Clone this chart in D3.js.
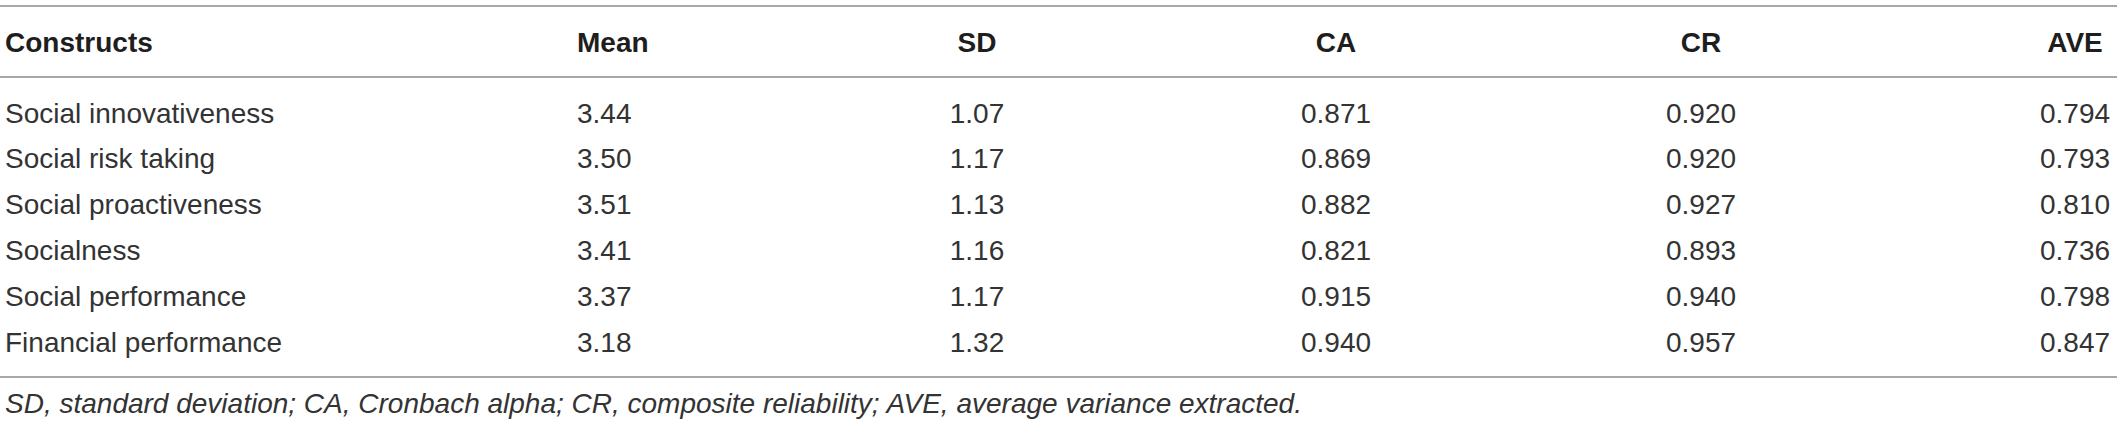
<!DOCTYPE html>
<html>
<head>
<meta charset="utf-8">
<script src="https://cdn.jsdelivr.net/npm/d3@7"></script>
<style>
  html, body { margin: 0; padding: 0; background: #fff; }
  svg { display: block; }
  text { font-family: "Liberation Sans", Arial, Helvetica, sans-serif; }
</style>
</head>
<body>
<div id="table"></div>
<script>
  var headers = ['Constructs', 'Mean', 'SD', 'CA', 'CR', 'AVE'];
  var constructs = ['Social innovativeness', 'Social risk taking', 'Social proactiveness',
                    'Socialness', 'Social performance', 'Financial performance'];
  var means = ['3.44', '3.50', '3.51', '3.41', '3.37', '3.18'];
  var sds   = ['1.07', '1.17', '1.13', '1.16', '1.17', '1.32'];
  var cas   = ['0.871', '0.869', '0.882', '0.821', '0.915', '0.940'];
  var crs   = ['0.920', '0.920', '0.927', '0.893', '0.940', '0.957'];
  var aves  = ['0.794', '0.793', '0.810', '0.736', '0.798', '0.847'];
  var footnote = 'SD, standard deviation; CA, Cronbach alpha; CR, composite reliability; AVE, average variance extracted.';

  var width = 2117, height = 426;

  // column placement: x position and text anchor
  var columns = [
    { x: 5,    anchor: 'start',  values: constructs },
    { x: 577,  anchor: 'start',  values: means },
    { x: 977,  anchor: 'middle', values: sds },
    { x: 1336, anchor: 'middle', values: cas },
    { x: 1701, anchor: 'middle', values: crs },
    { x: 2075, anchor: 'middle', values: aves }
  ];

  var y = d3.scaleLinear().domain([0, constructs.length - 1]).range([122.5, 351.5]);

  var svg = d3.select('#table').append('svg')
    .attr('width', width)
    .attr('height', height);

  // rules
  svg.selectAll('line.rule')
    .data([6, 77, 377])
    .enter().append('line')
    .attr('class', 'rule')
    .attr('x1', 0).attr('x2', width)
    .attr('y1', function (d) { return d; })
    .attr('y2', function (d) { return d; })
    .attr('stroke', '#a8a8a8')
    .attr('stroke-width', 2);

  // header row
  svg.selectAll('text.head')
    .data(headers)
    .enter().append('text')
    .attr('class', 'head')
    .attr('x', function (d, i) { return columns[i].x; })
    .attr('y', 52)
    .attr('text-anchor', function (d, i) { return columns[i].anchor; })
    .attr('font-size', 28)
    .attr('font-weight', 'bold')
    .attr('fill', '#1e1e1e')
    .text(function (d) { return d; });

  // body cells
  columns.forEach(function (col) {
    svg.append('g').selectAll('text')
      .data(col.values)
      .enter().append('text')
      .attr('x', col.x)
      .attr('y', function (d, i) { return y(i); })
      .attr('text-anchor', col.anchor)
      .attr('font-size', 28)
      .attr('fill', '#333')
      .text(function (d) { return d; });
  });

  svg.append('text')
    .attr('x', 5)
    .attr('y', 413)
    .attr('font-size', 28)
    .attr('font-style', 'italic')
    .attr('fill', '#333')
    .text(footnote);
</script>
</body>
</html>
